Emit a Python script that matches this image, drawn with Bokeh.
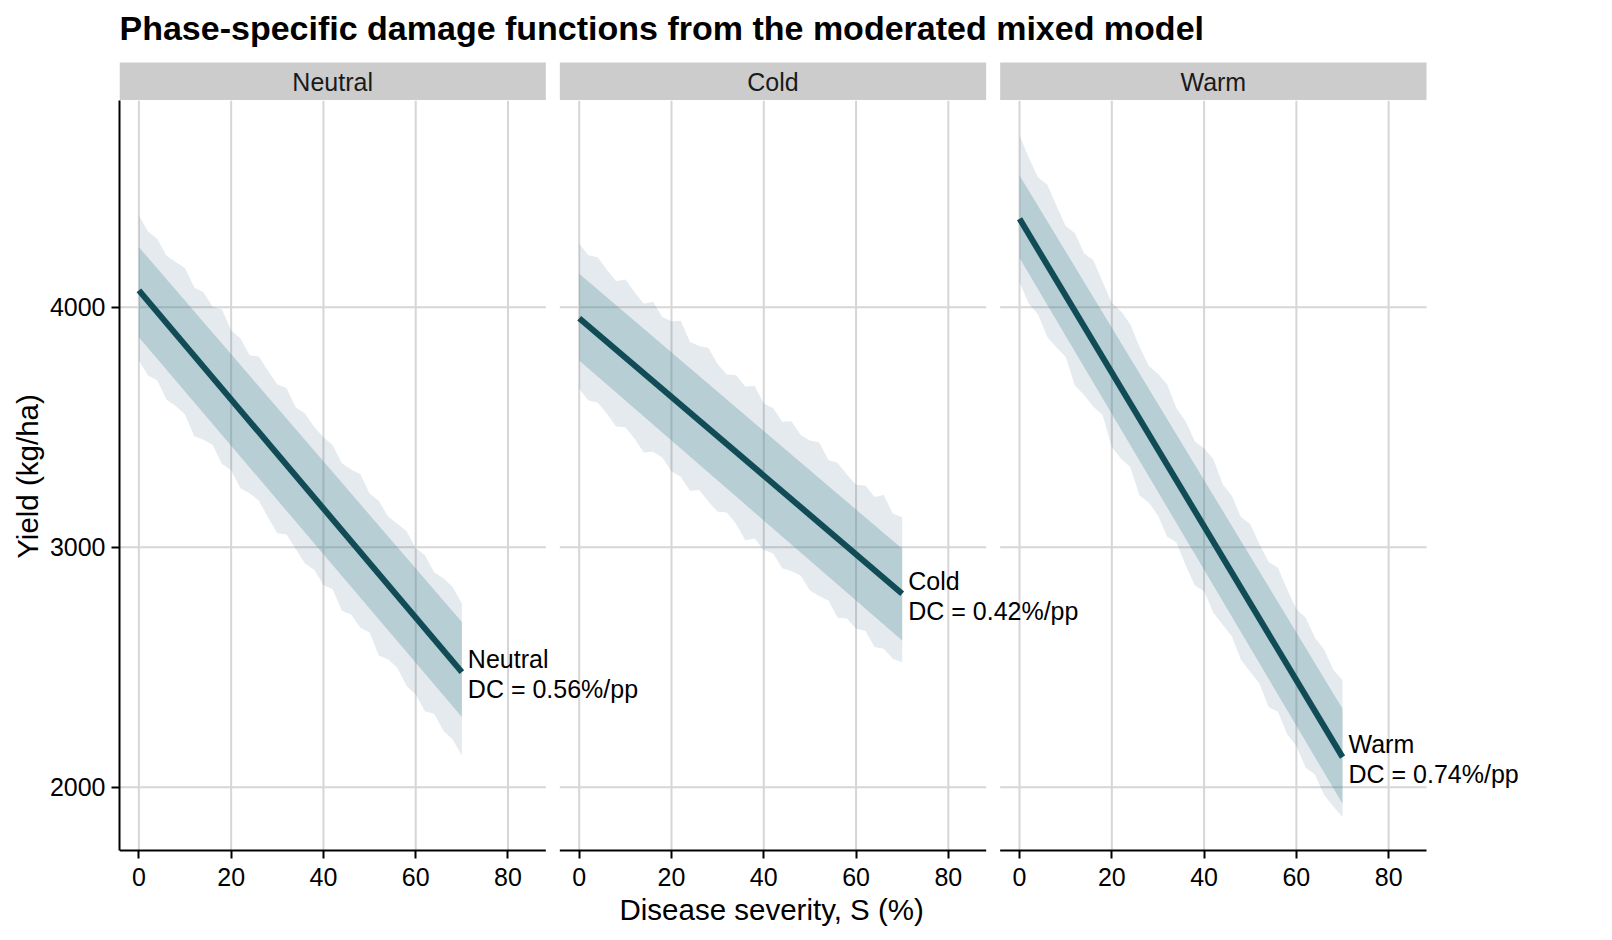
from bokeh.plotting import figure
from bokeh.models import (Range1d, LinearAxis, FixedTicker, ColumnDataSource, LabelSet,
                          Title, CustomJSTickFormatter)
from bokeh.core.properties import value
from bokeh.layouts import column
from bokeh.embed import file_html
from bokeh.resources import INLINE

# ---------------- data ----------------
phases = ["Neutral", "Cold", "Warm"]
dc_labels = ["0.56", "0.42", "0.74"]

severity_grid = [0, 2, 4, 6, 8, 10, 12, 14, 16, 18, 20, 22, 24, 26, 28, 30, 32, 34,
                 36, 38, 40, 42, 44, 46, 48, 50, 52, 54, 56, 58, 60, 62, 64, 66, 68, 70]
severity_ends = [0, 70]

neutral_line = [4070, 2479]
neutral_inner_hi = [4250, 2688]
neutral_inner_lo = [3875, 2292]
neutral_outer_hi = [4382, 4315, 4284, 4214, 4188, 4163, 4082, 4062, 4001, 3991, 3903, 3870,
                    3800, 3794, 3734, 3678, 3663, 3582, 3557, 3501, 3458, 3425, 3350, 3324,
                    3304, 3224, 3193, 3128, 3097, 3067, 2996, 2966, 2895, 2870, 2834, 2765]
neutral_outer_lo = [3778, 3715, 3694, 3614, 3588, 3553, 3462, 3447, 3426, 3346, 3320, 3245,
                    3225, 3194, 3124, 3058, 3053, 2992, 2932, 2906, 2842, 2825, 2735, 2719,
                    2664, 2644, 2548, 2533, 2497, 2422, 2386, 2316, 2305, 2235, 2199, 2132]

cold_line = [3954, 2806]
cold_inner_hi = [4139, 2993]
cold_inner_lo = [3778, 2611]
cold_outer_hi = [4264, 4216, 4208, 4156, 4108, 4115, 4062, 4014, 4022, 3959, 3941, 3943,
                 3855, 3838, 3830, 3762, 3719, 3716, 3669, 3671, 3598, 3580, 3522, 3525,
                 3467, 3444, 3436, 3363, 3351, 3303, 3260, 3257, 3209, 3217, 3139, 3125]
cold_outer_lo = [3660, 3611, 3603, 3556, 3503, 3500, 3452, 3394, 3397, 3374, 3316, 3293,
                 3235, 3238, 3190, 3147, 3144, 3096, 3029, 3036, 2988, 2975, 2912, 2900,
                 2882, 2819, 2796, 2778, 2706, 2703, 2660, 2652, 2584, 2577, 2534, 2520]

warm_line = [4368, 2125]
warm_inner_hi = [4549, 2327]
warm_inner_lo = [4205, 1931]
warm_outer_hi = [4715, 4624, 4540, 4511, 4422, 4338, 4308, 4224, 4195, 4106, 4017, 3983,
                 3929, 3835, 3756, 3722, 3678, 3579, 3525, 3440, 3411, 3367, 3263, 3214,
                 3125, 3096, 3012, 2938, 2914, 2825, 2741, 2707, 2623, 2573, 2489, 2445]
warm_outer_lo = [4104, 4014, 3970, 3876, 3832, 3793, 3673, 3634, 3585, 3551, 3417, 3368,
                 3334, 3215, 3186, 3132, 3043, 3019, 2925, 2840, 2816, 2727, 2678, 2629,
                 2530, 2481, 2432, 2333, 2314, 2220, 2171, 2082, 2053, 1968, 1919, 1876]

x_ticks = [0, 20, 40, 60, 80]
y_ticks = [2000, 3000, 4000]

panels = [
    (neutral_line, neutral_inner_lo, neutral_inner_hi, neutral_outer_lo, neutral_outer_hi),
    (cold_line, cold_inner_lo, cold_inner_hi, cold_outer_lo, cold_outer_hi),
    (warm_line, warm_inner_lo, warm_inner_hi, warm_outer_lo, warm_outer_hi),
]

# ---------------- layout / style ----------------
FONT = "Liberation Sans"
XLIM = (-4.2, 88.2)
YLIM = (1736, 4861)
PAGE_W, PAGE_H = 1612, 940
LEFT = 119
RIGHT_PAD = 15
PANELS_W = 1307
GAP_PX = 14
PANEL_PX = (PANELS_W - 2 * GAP_PX) / 3
UPP = (XLIM[1] - XLIM[0]) / PANEL_PX
FRAME_W = PAGE_W - LEFT - RIGHT_PAD
STRIP_FIG_H = 100
STRIP_PX = 38
PANEL_H_PX = 750
UPY = (YLIM[1] - YLIM[0]) / PANEL_H_PX
BOTTOM_PAD_PX = 2
MAIN_H = PAGE_H - STRIP_FIG_H
MAIN_BOTTOM = MAIN_H - PANEL_H_PX - BOTTOM_PAD_PX

LINE_COLOR = "#114B56"
OUTER_FILL = "#1F5070"
INNER_FILL = "#4E909B"
GRID_COLOR = "#D6D6D6"
STRIP_FILL = "#CCCCCC"
TICK_SIZE = "25px"
AXIS_TITLE_SIZE = "29.5px"

STEP = PANEL_PX + GAP_PX
ranges = {}
for i in range(3):
    start = XLIM[0] - i * STEP * UPP
    ranges[f"p{i}"] = Range1d(start=start, end=start + FRAME_W * UPP)

x_main = Range1d(0, FRAME_W)
tick_positions = [i * STEP + (t - XLIM[0]) / UPP for i in range(3) for t in x_ticks]

# ---------------- main panel figure ----------------
p = figure(width=PAGE_W, height=MAIN_H, x_range=x_main,
           y_range=Range1d(YLIM[0] - BOTTOM_PAD_PX * UPY, YLIM[1]),
           x_axis_type=None, y_axis_type=None, toolbar_location=None,
           output_backend="svg", min_border_left=LEFT, min_border_right=RIGHT_PAD,
           min_border_top=0, min_border_bottom=MAIN_BOTTOM)
p.extra_x_ranges = ranges
p.outline_line_color = None
p.background_fill_color = "white"
p.border_fill_color = "white"

yax = LinearAxis(ticker=FixedTicker(ticks=y_ticks), axis_label="Yield (kg/ha)", bounds=YLIM)
yax.axis_line_width = 2
yax.axis_line_color = "black"
yax.major_tick_line_width = 2
yax.major_tick_line_color = "black"
yax.major_tick_out = 8
yax.major_tick_in = 0
yax.minor_tick_line_color = None
yax.major_label_standoff = 6
yax.major_label_text_font = FONT
yax.major_label_text_font_size = TICK_SIZE
yax.major_label_text_color = "black"
yax.axis_label_text_font = FONT
yax.axis_label_text_font_size = AXIS_TITLE_SIZE
yax.axis_label_text_font_style = "normal"
yax.axis_label_text_color = "black"
yax.axis_label_standoff = 3
p.add_layout(yax, "left")

fmt = CustomJSTickFormatter(args=dict(step=STEP, upp=UPP, x0=XLIM[0]), code="""
const k = Math.floor(tick / step);
return String(Math.round((tick - k * step) * upp + x0));
""")
xax = LinearAxis(ticker=FixedTicker(ticks=tick_positions), formatter=fmt)
xax.axis_line_color = None
xax.major_tick_line_width = 2
xax.major_tick_line_color = "black"
xax.major_tick_in = BOTTOM_PAD_PX
xax.major_tick_out = 6
xax.minor_tick_line_color = None
xax.major_label_standoff = 9
xax.major_label_text_font = FONT
xax.major_label_text_font_size = TICK_SIZE
xax.major_label_text_color = "black"
p.add_layout(xax, "below")

xtitle = Title(text="Disease severity, S (%)", align="left", offset=500,
               vertical_align="top", standoff=8, text_font=FONT,
               text_font_size=AXIS_TITLE_SIZE, text_font_style="normal", text_color="black")
p.add_layout(xtitle, "below")

for i, (ln, ilo, ihi, olo, ohi) in enumerate(panels):
    rn = f"p{i}"
    # panel grid lines
    p.segment(x0=x_ticks, y0=[YLIM[0]] * len(x_ticks), x1=x_ticks, y1=[YLIM[1]] * len(x_ticks),
              line_color=GRID_COLOR, line_width=2, x_range_name=rn)
    p.segment(x0=[XLIM[0]] * len(y_ticks), y0=y_ticks, x1=[XLIM[1]] * len(y_ticks), y1=y_ticks,
              line_color=GRID_COLOR, line_width=2, x_range_name=rn)
    # panel bottom axis line
    p.segment(x0=[XLIM[0]], y0=[YLIM[0]], x1=[XLIM[1]], y1=[YLIM[0]],
              line_color="black", line_width=2, x_range_name=rn)
    # bands and line
    p.varea(x=severity_grid, y1=olo, y2=ohi, fill_color=OUTER_FILL, fill_alpha=0.12,
            x_range_name=rn)
    p.varea(x=severity_ends, y1=ilo, y2=ihi, fill_color=INNER_FILL, fill_alpha=0.3,
            x_range_name=rn)
    p.line(x=severity_ends, y=ln, line_color=LINE_COLOR, line_width=6, x_range_name=rn)
    # end labels
    src1 = ColumnDataSource(dict(x=[severity_ends[-1]], y=[ln[-1]], text=[phases[i]]))
    src2 = ColumnDataSource(dict(x=[severity_ends[-1]], y=[ln[-1]],
                                 text=[f"DC = {dc_labels[i]}%/pp"]))
    for src, yo in ((src1, 4), (src2, -26)):
        ls = LabelSet(x="x", y="y", text="text", source=src, x_range_name=rn,
                      x_offset=6, y_offset=yo, text_align="left", text_baseline="alphabetic",
                      text_font=value(FONT), text_font_size=value(TICK_SIZE),
                      text_color="black")
        p.add_layout(ls)

# ---------------- strip + title figure ----------------
s = figure(width=PAGE_W, height=STRIP_FIG_H, x_range=x_main,
           y_range=Range1d(0, STRIP_FIG_H / STRIP_PX),
           x_axis_type=None, y_axis_type=None, toolbar_location=None,
           output_backend="svg", min_border_left=LEFT, min_border_right=RIGHT_PAD,
           min_border_top=0, min_border_bottom=0)
s.extra_x_ranges = ranges
s.outline_line_color = None
s.background_fill_color = "white"
s.border_fill_color = "white"
for i, ph in enumerate(phases):
    rn = f"p{i}"
    s.quad(left=[XLIM[0]], right=[XLIM[1]], bottom=[0], top=[1], fill_color=STRIP_FILL,
           line_color=None, x_range_name=rn)
    s.text(x=[(XLIM[0] + XLIM[1]) / 2], y=[0.5], text=[ph], text_align="center",
           text_baseline="middle", text_font=value(FONT), text_font_size=value(TICK_SIZE),
           text_color="#1A1A1A", x_range_name=rn)

TITLE_BASELINE_PX = 27
s.text(x=[XLIM[0]], y=[(STRIP_FIG_H - TITLE_BASELINE_PX) / STRIP_PX],
       text=["Phase-specific damage functions from the moderated mixed model"],
       text_align="left", text_baseline="alphabetic", text_font=value(FONT),
       text_font_size=value("34px"), text_font_style="bold", text_color="black",
       x_range_name="p0")

layout = column(s, p)
open("out.html", "w").write(file_html(layout, INLINE))
